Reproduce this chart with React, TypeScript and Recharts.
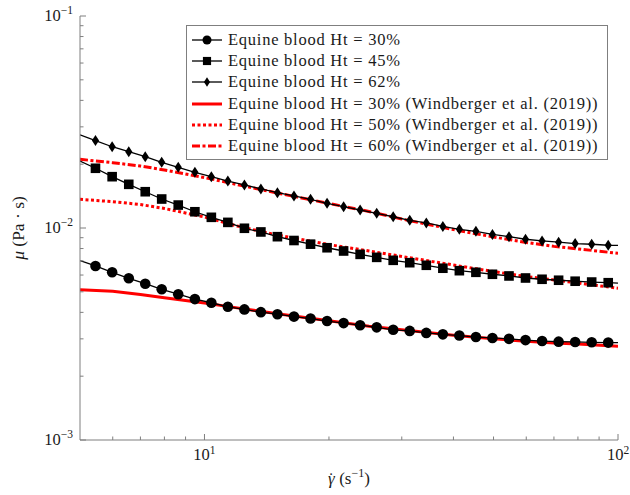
import React from 'react';
import { LineChart, Line, XAxis, YAxis, Legend } from 'recharts';

// shear rates of the model curves (first and last are the curve ends, the rest carry markers)
const modelRates = [
  5, 5.45, 5.98, 6.56, 7.19, 7.88, 8.64, 9.48, 10.39, 11.39, 12.49, 13.69, 15.01, 16.46, 18.05,
  19.79, 21.7, 23.79, 26.09, 28.6, 31.36, 34.39, 37.71, 41.34, 45.33, 49.7, 54.5, 59.75, 65.52,
  71.84, 78.77, 86.37, 94.7, 100,
];
const modelHt30 = [
  0.00702, 0.00662, 0.00618, 0.00579, 0.00546, 0.00514, 0.00487, 0.00462, 0.00444, 0.00425,
  0.00413, 0.00401, 0.00392, 0.00382, 0.00374, 0.00364, 0.00356, 0.00348, 0.0034, 0.00331,
  0.00327, 0.0032, 0.00315, 0.00311, 0.00306, 0.00303, 0.003, 0.00296, 0.00293, 0.00291,
  0.0029, 0.00289, 0.00288, 0.00288,
];
const modelHt45 = [
  0.02071, 0.01913, 0.01746, 0.01607, 0.01483, 0.0137, 0.01283, 0.01193, 0.01123, 0.01063,
  0.00997, 0.00958, 0.0091, 0.00873, 0.00839, 0.00807, 0.00779, 0.00751, 0.00727, 0.00704,
  0.00686, 0.00667, 0.00646, 0.00629, 0.00618, 0.00605, 0.00594, 0.00581, 0.00573, 0.00567,
  0.00561, 0.00556, 0.00552, 0.0055,
];
const modelHt62 = [
  0.02748, 0.02584, 0.02417, 0.02291, 0.0217, 0.02041, 0.01933, 0.01831, 0.01746, 0.01666,
  0.01596, 0.01528, 0.01468, 0.01417, 0.01366, 0.01308, 0.0126, 0.01216, 0.01173, 0.0113,
  0.01087, 0.01056, 0.01017, 0.00986, 0.00965, 0.00933, 0.0091, 0.00885, 0.00869, 0.00857,
  0.00844, 0.00838, 0.00829, 0.00828,
];

// Windberger et al. (2019)
const refRates = [5, 6, 7, 8, 10, 12, 15, 20, 25, 30, 40, 50, 60, 70, 80, 100];
const refHt30 = [
  0.00511, 0.00503, 0.00486, 0.00469, 0.00443, 0.0042, 0.00394, 0.00365, 0.00344, 0.00331,
  0.00312, 0.003, 0.00292, 0.00287, 0.00284, 0.00277,
];
const refHt50 = [
  0.01366, 0.01331, 0.01291, 0.01236, 0.01127, 0.01021, 0.00926, 0.00835, 0.00779, 0.00734,
  0.00669, 0.00623, 0.0059, 0.00569, 0.0055, 0.0052,
];
const refHt60 = [
  0.02109, 0.02032, 0.0196, 0.01878, 0.0173, 0.01603, 0.01462, 0.01305, 0.01197, 0.01102,
  0.00983, 0.00907, 0.00855, 0.00819, 0.00797, 0.0076,
];

const xTicks = [6, 7, 8, 9, 10, 20, 30, 40, 50, 60, 70, 80, 90, 100];
const yTicks = [
  0.001, 0.002, 0.003, 0.004, 0.005, 0.006, 0.007, 0.008, 0.009, 0.01, 0.02, 0.03, 0.04, 0.05,
  0.06, 0.07, 0.08, 0.09, 0.1,
];

const SERIF = '"Liberation Serif", "DejaVu Serif", serif';
const AXIS = '#7f7f7f';
const TXT = '#1a1a1a';
const RED = '#ff0000';

const toPoints = (xs: number[], ys: number[]) => xs.map((x, i) => ({ x, y: ys[i] }));

const isMajor = (v: number) => Math.abs(Math.log10(v) - Math.round(Math.log10(v))) < 1e-6;
const expText = (v: number) => {
  const e = Math.round(Math.log10(v));
  return e < 0 ? `\u2212${-e}` : `${e}`;
};

const BottomTick = ({ x, y, payload }: any) => {
  const major = isMajor(payload.value);
  return (
    <g>
      <line x1={x} x2={x} y1={y} y2={y - (major ? 6 : 3.5)} stroke={AXIS} />
      {major && (
        <text x={x} y={y + 20} textAnchor="middle" fontSize={16.5} fill={TXT} fontFamily={SERIF}>
          10<tspan dy={-6} fontSize={11.5}>{expText(payload.value)}</tspan>
        </text>
      )}
    </g>
  );
};

const TopTick = ({ x, y, payload }: any) => (
  <line x1={x} x2={x} y1={y} y2={y + (isMajor(payload.value) ? 6 : 3.5)} stroke={AXIS} />
);

const LeftTick = ({ x, y, payload }: any) => {
  const major = isMajor(payload.value);
  return (
    <g>
      <line x1={x} x2={x + (major ? 6 : 3.5)} y1={y} y2={y} stroke={AXIS} />
      {major && (
        <text x={x - 7} y={y + 5} textAnchor="end" fontSize={16.5} fill={TXT} fontFamily={SERIF}>
          10<tspan dy={-7} fontSize={11.5}>{expText(payload.value)}</tspan>
        </text>
      )}
    </g>
  );
};

const RightTick = ({ x, y, payload }: any) => (
  <line x1={x} x2={x - (isMajor(payload.value) ? 6 : 3.5)} y1={y} y2={y} stroke={AXIS} />
);

const XTitle = ({ viewBox }: any) => {
  const vb = viewBox || { x: 80, y: 440, width: 538, height: 55 };
  return (
    <text x={vb.x + vb.width / 2} y={vb.y + 44} textAnchor="middle" fontSize={17} fill={TXT} fontFamily={SERIF}>
      <tspan fontStyle="italic">{'\u03b3'}</tspan>
      <tspan dx={-6.5}>{'\u02d9'}</tspan>
      <tspan dx={1}>{'\u00a0(s'}</tspan>
      <tspan dy={-7} fontSize={12}>{'\u22121'}</tspan>
      <tspan dy={7}>)</tspan>
    </text>
  );
};

const YTitle = ({ viewBox }: any) => {
  const vb = viewBox || { x: 0, y: 16, width: 80, height: 424 };
  const cx = 24;
  const cy = vb.y + vb.height / 2;
  return (
    <text x={cx} y={cy} transform={`rotate(-90, ${cx}, ${cy})`} textAnchor="middle" fontSize={17.5} fill={TXT} fontFamily={SERIF}>
      <tspan fontStyle="italic">{'\u03bc'}</tspan>
      {'\u00a0(Pa \u00b7 s)'}
    </text>
  );
};

type Shape = 'circle' | 'square' | 'diamond';

const Marker = ({ shape, cx, cy, k = 1 }: { shape: Shape; cx: number; cy: number; k?: number }) => {
  if (shape === 'circle') return <circle cx={cx} cy={cy} r={5.3 * k} fill="#000" />;
  if (shape === 'square') {
    const h = 4.8 * k;
    return <rect x={cx - h} y={cy - h} width={2 * h} height={2 * h} fill="#000" />;
  }
  const w = 3.6 * k;
  const h = 5.5 * k;
  return <path d={`M${cx},${cy - h} L${cx + w},${cy} L${cx},${cy + h} L${cx - w},${cy} Z`} fill="#000" />;
};

const makeDot = (shape: Shape, last: number) => (p: any) => {
  const { cx, cy, index } = p;
  if (index === 0 || index === last || cx == null || cy == null) return <g key={`e-${index}`} />;
  return <Marker key={`m-${index}`} shape={shape} cx={cx} cy={cy} />;
};

const legendItems = [
  { name: 'Equine blood Ht = 30%', color: '#000', width: 1.3, dash: undefined, shape: 'circle' },
  { name: 'Equine blood Ht = 45%', color: '#000', width: 1.3, dash: undefined, shape: 'square' },
  { name: 'Equine blood Ht = 62%', color: '#000', width: 1.3, dash: undefined, shape: 'diamond' },
  { name: 'Equine blood Ht = 30% (Windberger et al. (2019))', color: RED, width: 3, dash: undefined, shape: null },
  { name: 'Equine blood Ht = 50% (Windberger et al. (2019))', color: RED, width: 3, dash: '3 2.5', shape: null },
  { name: 'Equine blood Ht = 60% (Windberger et al. (2019))', color: RED, width: 3, dash: '8 2.5 3 2.5', shape: null },
];

const LegendBox = () => (
  <div
    style={{
      boxSizing: 'border-box',
      width: '100%',
      height: '100%',
      border: `1px solid ${AXIS}`,
      background: '#fff',
      padding: '3px 0 0 5px',
      fontFamily: SERIF,
      fontSize: 16.5,
      letterSpacing: 0.75,
      color: TXT,
    }}
  >
    {legendItems.map((it) => (
      <div key={it.name} style={{ display: 'flex', alignItems: 'center', height: 21.3 }}>
        <svg width={30} height={14} style={{ flex: 'none' }}>
          <line x1={0} x2={30} y1={7} y2={7} stroke={it.color} strokeWidth={it.width} strokeDasharray={it.dash} />
          {it.shape && <Marker shape={it.shape as Shape} cx={15} cy={7} k={0.85} />}
        </svg>
        <span style={{ marginLeft: 6, whiteSpace: 'nowrap' }}>{it.name}</span>
      </div>
    ))}
  </div>
);

export default function App() {
  const last = modelRates.length - 1;
  return (
    <div style={{ position: 'absolute', left: 0, top: 0, width: 630, height: 495, background: '#fff' }}>
      <LineChart width={630} height={495} margin={{ top: 16, right: 12, bottom: 0, left: 0 }} style={{ fontFamily: SERIF }}>
        <XAxis
          type="number"
          dataKey="x"
          scale="log"
          domain={[5, 100]}
          allowDataOverflow
          ticks={xTicks}
          interval={0}
          tickSize={0}
          tickMargin={0}
          tickLine={false}
          height={55}
          axisLine={{ stroke: AXIS }}
          tick={(p: any) => <BottomTick {...p} />}
          label={<XTitle />}
        />
        <XAxis
          xAxisId="top"
          orientation="top"
          type="number"
          dataKey="x"
          scale="log"
          domain={[5, 100]}
          allowDataOverflow
          ticks={xTicks}
          interval={0}
          tickSize={0}
          tickMargin={0}
          tickLine={false}
          height={0}
          axisLine={{ stroke: AXIS }}
          tick={(p: any) => <TopTick {...p} />}
        />
        <YAxis
          type="number"
          scale="log"
          domain={[0.001, 0.1]}
          allowDataOverflow
          ticks={yTicks}
          interval={0}
          tickSize={0}
          tickMargin={0}
          tickLine={false}
          width={80}
          axisLine={{ stroke: AXIS }}
          tick={(p: any) => <LeftTick {...p} />}
          label={<YTitle />}
        />
        <YAxis
          yAxisId="right"
          orientation="right"
          type="number"
          scale="log"
          domain={[0.001, 0.1]}
          allowDataOverflow
          ticks={yTicks}
          interval={0}
          tickSize={0}
          tickMargin={0}
          tickLine={false}
          width={0}
          axisLine={{ stroke: AXIS }}
          tick={(p: any) => <RightTick {...p} />}
        />

        <Line data={toPoints(refRates, refHt30)} dataKey="y" name="ref30" stroke={RED} strokeWidth={3} dot={false} activeDot={false} isAnimationActive={false} />
        <Line data={toPoints(refRates, refHt50)} dataKey="y" name="ref50" stroke={RED} strokeWidth={3} strokeDasharray="3 2.5" dot={false} activeDot={false} isAnimationActive={false} />
        <Line data={toPoints(refRates, refHt60)} dataKey="y" name="ref60" stroke={RED} strokeWidth={3} strokeDasharray="8 2.5 3 2.5" dot={false} activeDot={false} isAnimationActive={false} />

        <Line data={toPoints(modelRates, modelHt30)} dataKey="y" name="ht30" stroke="#000" strokeWidth={1.3} dot={makeDot('circle', last)} activeDot={false} isAnimationActive={false} />
        <Line data={toPoints(modelRates, modelHt45)} dataKey="y" name="ht45" stroke="#000" strokeWidth={1.3} dot={makeDot('square', last)} activeDot={false} isAnimationActive={false} />
        <Line data={toPoints(modelRates, modelHt62)} dataKey="y" name="ht62" stroke="#000" strokeWidth={1.3} dot={makeDot('diamond', last)} activeDot={false} isAnimationActive={false} />

        <Legend
          layout="vertical"
          align="center"
          verticalAlign="middle"
          content={() => <LegendBox />}
          wrapperStyle={{ left: 186, top: 25, width: 422, height: 135 }}
        />
      </LineChart>
    </div>
  );
}
